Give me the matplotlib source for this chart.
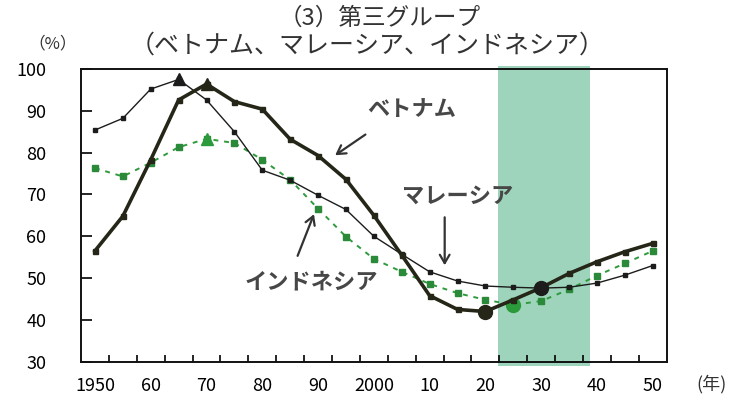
import matplotlib
matplotlib.use("Agg")
import matplotlib.pyplot as plt

plt.rcParams['font.family'] = ['Noto Sans CJK JP', 'DejaVu Sans']

# 5-year steps, 1950-2050
years = [1950, 1955, 1960, 1965, 1970, 1975, 1980, 1985, 1990, 1995, 2000,
         2005, 2010, 2015, 2020, 2025, 2030, 2035, 2040, 2045, 2050]
tick_labels = ['1950', '60', '70', '80', '90', '2000', '10', '20', '30', '40', '50']

vietnam = [56.5, 64.8, 78.3, 92.6, 96.4, 92.2, 90.4, 83.2, 79.3, 73.6, 65.0,
           55.5, 45.8, 42.5, 42.0, 44.8, 47.7, 51.1, 53.9, 56.3, 58.3]
malaysia = [85.4, 88.2, 95.2, 97.5, 92.6, 85.0, 75.8, 73.4, 69.8, 66.4, 60.0,
            55.7, 51.5, 49.3, 48.1, 47.8, 47.6, 47.8, 48.8, 50.7, 53.0]
indonesia = [76.3, 74.3, 77.6, 81.3, 83.3, 82.3, 78.3, 73.5, 66.6, 59.9, 54.6,
             51.5, 48.6, 46.4, 44.8, 43.6, 44.5, 47.3, 50.6, 53.5, 56.5]

# shaded period, in category units
band_start, band_end = 14.46, 17.74

fig = plt.figure(figsize=(7.37, 3.97), dpi=100)
ax = fig.add_axes([0.1099, 0.0889, 0.7947, 0.7373])

x = list(range(len(years)))

ax.axvspan(band_start, band_end, ymin=-0.015, ymax=1.01, color='#9dd4bb',
           zorder=0, clip_on=False, lw=0)

dark = '#262618'
thin = '#1c1c1c'
green = '#2e9a3c'

ax.plot(x, malaysia, color=thin, lw=1.0, marker='s', ms=3.0, zorder=3)
ax.plot(x, vietnam, color=dark, lw=2.6, marker='s', ms=3.6, zorder=4)
ax.plot(x, indonesia, color=green, lw=1.4, ls=(0, (2.5, 3)), marker='s', ms=4.0,
        mfc='#2a8a3a', mec='#2a8a3a', zorder=2)

# peaks (triangles) and troughs (circles)
for vals, col, z in ((malaysia, thin, 3), (vietnam, dark, 4), (indonesia, '#2a9a3a', 2)):
    ip = max(range(len(vals)), key=lambda i: vals[i])
    im = min(range(len(vals)), key=lambda i: vals[i])
    ax.plot(ip, vals[ip], marker='^', ms=9, color=col, zorder=z + 1, ls='none')
    ax.plot(im, vals[im], marker='o', ms=10, color=col, zorder=z + 1, ls='none')

ax.set_xlim(-0.5, len(years) - 0.5)
ax.set_ylim(30, 100)
ax.set_yticks([30, 40, 50, 60, 70, 80, 90, 100])
ax.set_yticklabels(['30', '40', '50', '60', '70', '80', '90', '100'], fontsize=13)
ax.set_xticks(range(0, len(years), 2))
ax.set_xticklabels(tick_labels, fontsize=13)
ax.set_xticks([i + 0.5 for i in range(len(years) - 1)], minor=True)
ax.tick_params(axis='x', which='major', length=0, pad=11)
ax.tick_params(axis='x', which='minor', direction='in', length=5, width=1.2)
ax.tick_params(axis='y', direction='in', length=8, width=1.2, pad=25)
for s in ax.spines.values():
    s.set_linewidth(1.4)
    s.set_color('#111111')

txt = '#333333'
lab = dict(fontsize=16, color='#474747', fontweight='bold', ha='center', va='center')
arrow = dict(arrowstyle='->,head_length=0.6,head_width=0.35', lw=1.6, color=txt)
# series labels with arrows
ax.text(11.35, 90.2, 'ベトナム', **lab)
ax.annotate('', xy=(8.53, 79.0), xytext=(9.78, 84.7), arrowprops=arrow)
ax.text(13.0, 69.6, 'マレーシア', **lab)
ax.annotate('', xy=(12.54, 52.4), xytext=(12.54, 65.2), arrowprops=arrow)
ax.text(7.75, 49.0, 'インドネシア', **lab)
ax.annotate('', xy=(7.89, 65.9), xytext=(7.23, 54.7), arrowprops=arrow)

fig.text(380 / 737, 1 - 18 / 397, '（3）第三グループ', fontsize=17, color=txt,
         ha='center', va='center')
fig.text(367 / 737, 1 - 46 / 397, '（ベトナム、マレーシア、インドネシア）', fontsize=18,
         color=txt, ha='center', va='center')
fig.text(53 / 737, 1 - 44 / 397, '（%）', fontsize=12, color=txt, ha='center', va='center')
fig.text(711 / 737, 1 - 384 / 397, '(年)', fontsize=13, color=txt, ha='center', va='center')

fig.savefig('out.png', dpi=100)
